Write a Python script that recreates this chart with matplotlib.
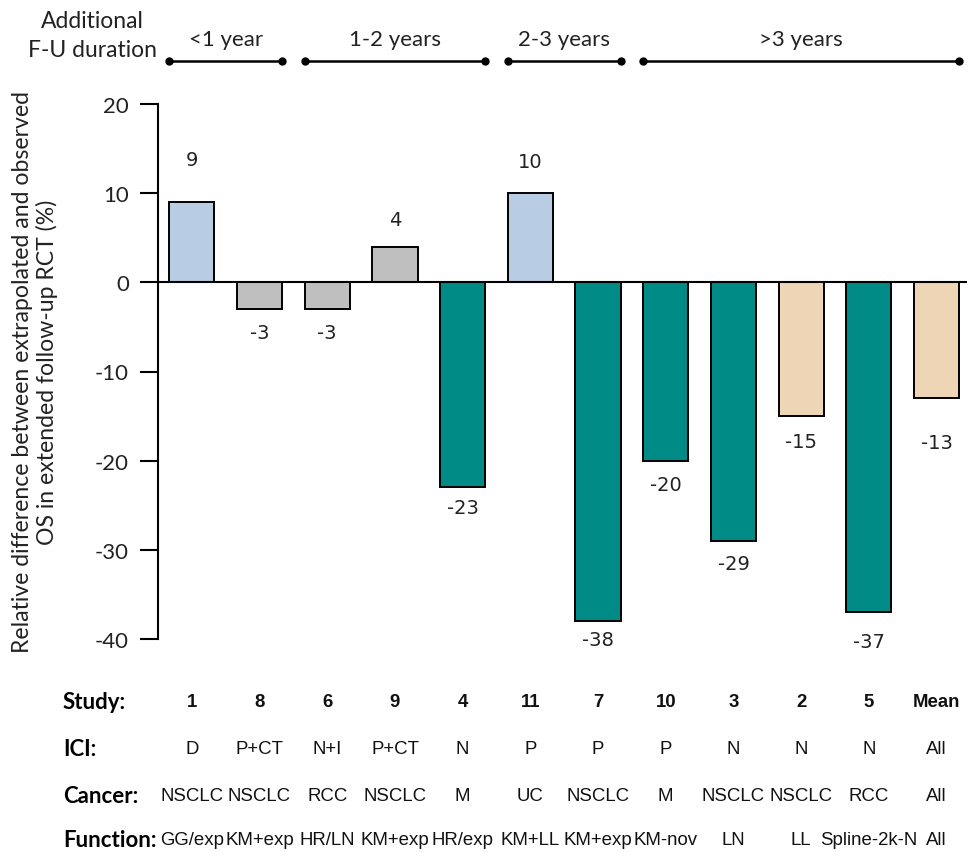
import matplotlib
matplotlib.use("Agg")
import matplotlib.pyplot as plt
import matplotlib.transforms as mtransforms

plt.rcParams['axes.unicode_minus'] = False

# data
studies = ['1', '8', '6', '9', '4', '11', '7', '10', '3', '2', '5', 'Mean']
values = [9, -3, -3, 4, -23, 10, -38, -20, -29, -15, -37, -13]
ici = ['D', 'P+CT', 'N+I', 'P+CT', 'N', 'P', 'P', 'P', 'N', 'N', 'N', 'All']
cancer = ['NSCLC', 'NSCLC', 'RCC', 'NSCLC', 'M', 'UC', 'NSCLC', 'M', 'NSCLC', 'NSCLC', 'RCC', 'All']
function = ['GG/exp', 'KM+exp', 'HR/LN', 'KM+exp', 'HR/exp', 'KM+LL', 'KM+exp', 'KM-nov',
            'LN', 'LL', 'Spline-2k-N', 'All']
groups = ['<1 year', '1-2 years', '2-3 years', '>3 years']
group_span = [(0, 1), (2, 4), (5, 6), (7, 11)]

# styling
c_blue, c_grey, c_teal, c_tan = '#b8cce4', '#bfbfbf', '#008b87', '#eed5b5'
colors = [c_blue, c_grey, c_grey, c_grey, c_teal, c_blue, c_teal, c_teal, c_teal, c_tan, c_teal, c_tan]
label_dy = [4.8, -2.6, -2.6, 3.1, -2.2, 3.6, -2.1, -2.7, -2.5, -2.9, -3.3, -5.0]

W, H = 967, 853
fig = plt.figure(figsize=(W / 100, H / 100), dpi=100)
ax = fig.add_axes([158 / W, 1 - 640 / H, (967 - 158) / W, (640 - 105) / H])

x = list(range(len(values)))
ax.bar(x, values, width=0.667, color=colors, edgecolor='black', linewidth=1.4, zorder=2)
ax.axhline(0, color='black', lw=1.5, zorder=3)

for xi, v, dy in zip(x, values, label_dy):
    ax.text(xi, v + dy, str(v), ha='center', va='center', fontsize=14,
            family='DejaVu Sans', color='#222222')

ax.set_xlim(-0.5, 11.45)
ax.set_ylim(-40, 20)
ax.set_yticks([20, 10, 0, -10, -20, -30, -40])
ax.set_xticks([])
for s in ['top', 'right', 'bottom']:
    ax.spines[s].set_visible(False)
ax.spines['left'].set_linewidth(1.5)
ax.tick_params(axis='y', direction='out', length=13, width=1.5, pad=8, labelsize=16)
for t in ax.get_yticklabels():
    t.set_family('Lato')
    t.set_color('#222222')

fig.text(35 / W, 1 - 372 / H,
         'Relative difference between extrapolated and observed\nOS in extended follow-up RCT (%)',
         rotation=90, ha='center', va='center', fontsize=16.6, family='Lato',
         linespacing=1.12, color='#222222')

# follow-up duration brackets above the plot
bt = mtransforms.blended_transform_factory(ax.transData, fig.transFigure)
y_line = 1 - 62 / H
y_lab = 1 - 40 / H
for name, (a, b) in zip(groups, group_span):
    x0, x1 = a - 0.333, b + 0.333
    ax.plot([x0, x1], [y_line, y_line], color='black', lw=1.8, marker='o', ms=5,
            transform=bt, clip_on=False)
    fig.text((x0 + x1) / 2, y_lab, name, transform=bt, ha='center', va='center',
             fontsize=16, family='Lato', color='#222222')
fig.text(92 / W, 1 - 36 / H, 'Additional\nF-U duration', ha='center', va='center',
         fontsize=16.5, family='Lato', linespacing=1.5, color='#222222')

# table below the plot
rows = [('Study:', studies, 703, True), ('ICI:', ici, 750, False),
        ('Cancer:', cancer, 797, False), ('Function:', function, 841, False)]
for title, vals, ypx, bold in rows:
    yf = 1 - ypx / H
    fig.text(63 / W, yf, title, ha='left', va='center', fontsize=16, family='Lato',
             fontweight='bold', color='black')
    for xi, s in zip(x, vals):
        fig.text(xi, yf, s, transform=bt, ha='center', va='center', fontsize=13.4,
                 family='Liberation Sans', fontweight='bold' if bold else 'normal',
                 color='#111111')

fig.savefig('out.png', dpi=100)
